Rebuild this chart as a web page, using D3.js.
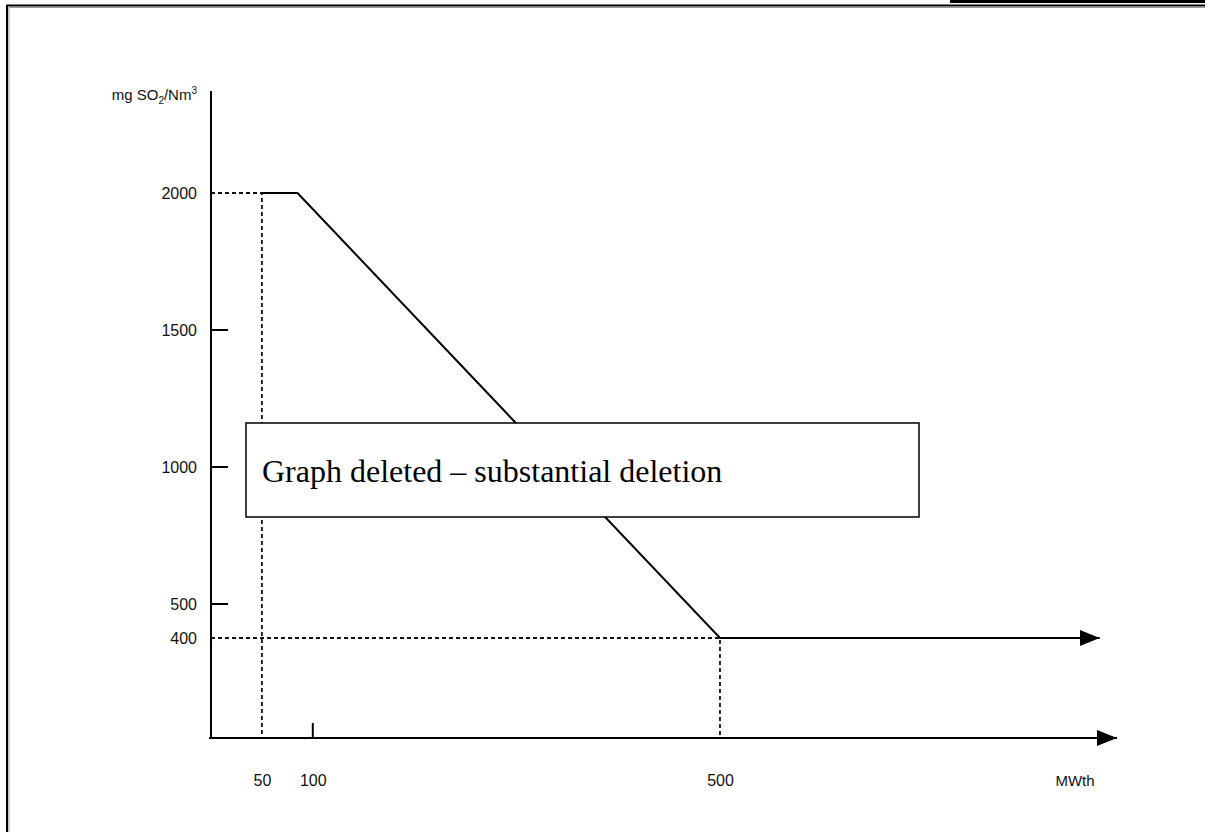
<!DOCTYPE html>
<html>
<head>
<meta charset="utf-8">
<script src="https://cdn.jsdelivr.net/npm/d3@7"></script>
<style>
    body { margin: 0; background: #fff; }
    svg { display: block; }
</style>
</head>
<body>
<div id="graph"></div>
<script>
// DATA
var yTicks = [2000, 1500, 1000, 500];      // ticks with a short mark
var yLabels = [2000, 1500, 1000, 500, 400];
var xLabels = [50, 100, 500];
var xTickMarks = [100];
var limitMW = [50, 85, 500, 873];          // emission limit curve
var limitSO2 = [2000, 2000, 400, 400];
var guideMW = [50, 500];                   // dashed guide lines
var guideSO2 = [2000, 400];
var xMax = 890;
var yMax = 2370;
var yUnit = ["mg SO", "2", "/Nm", "3"];
var xUnit = "MWth";
var boxText = "Graph deleted \u2013 substantial deletion";

var svgWidth = 1205;
var svgHeight = 832;

var svg = d3.select("#graph")
    .append("svg")
    .attr("width", svgWidth)
    .attr("height", svgHeight);

// page frame
svg.append("rect").attr("x", 950).attr("y", 0).attr("width", 255).attr("height", 3).attr("fill", "#000");
svg.append("path").attr("d", "M7,832V5.5H1205").attr("fill", "none").attr("stroke", "#000").attr("stroke-width", 2);
svg.append("path").attr("d", "M9,832V7.5H1205").attr("fill", "none").attr("stroke", "#999").attr("stroke-width", 1);

// scales
var x = d3.scaleLinear().domain([0, xMax]).range([211, 1117]);
var y = d3.scaleLinear().domain([0, 400, 500, 2000, yMax]).range([738, 638, 604, 193, 91]);

// arrow head
svg.append("defs").append("marker")
    .attr("id", "arrow")
    .attr("viewBox", "0 0 20 16")
    .attr("refX", 20).attr("refY", 8)
    .attr("markerWidth", 20).attr("markerHeight", 16)
    .attr("markerUnits", "userSpaceOnUse")
    .attr("orient", "auto")
    .append("path")
    .attr("d", "M0,0L20,8L0,16Z")
    .attr("fill", "#000");

// dashed guides
var dash = svg.append("g")
    .attr("stroke", "#111")
    .attr("stroke-width", 1.8)
    .attr("stroke-dasharray", "4,3")
    .attr("fill", "none");
for (var i = 0; i < guideMW.length; i++) {
    dash.append("path")
        .attr("d", "M" + x(0) + "," + y(guideSO2[i]) + "H" + x(guideMW[i]) + "V" + y(0));
}

// axes
svg.append("line")
    .attr("x1", x(0)).attr("y1", y(yMax))
    .attr("x2", x(0)).attr("y2", y(0) + 1)
    .attr("stroke", "#000").attr("stroke-width", 2);
svg.append("line")
    .attr("x1", x(0) - 2).attr("y1", y(0))
    .attr("x2", x(xMax)).attr("y2", y(0))
    .attr("stroke", "#000").attr("stroke-width", 2.2)
    .attr("marker-end", "url(#arrow)");

var yAxis = svg.append("g")
    .attr("transform", "translate(" + x(0) + ",0)")
    .call(d3.axisLeft(y).tickValues(yLabels).tickFormat(d3.format("d")).tickSize(0).tickPadding(14));
yAxis.select(".domain").remove();
yAxis.selectAll("text")
    .attr("font-family", "'Liberation Sans', Arial, sans-serif")
    .attr("font-size", 16)
    .attr("fill", "#111");

var xAxis = svg.append("g")
    .attr("transform", "translate(0," + y(0) + ")")
    .call(d3.axisBottom(x).tickValues(xLabels).tickFormat(d3.format("d")).tickSize(0).tickPadding(37));
xAxis.select(".domain").remove();
xAxis.selectAll("text")
    .attr("font-family", "'Liberation Sans', Arial, sans-serif")
    .attr("font-size", 16)
    .attr("fill", "#111");

// short tick marks
svg.selectAll(".ytick")
    .data(yTicks.slice(1))
    .enter().append("line")
    .attr("x1", x(0)).attr("x2", x(0) + 17)
    .attr("y1", d => y(d)).attr("y2", d => y(d))
    .attr("stroke", "#000").attr("stroke-width", 2);
svg.selectAll(".xtick")
    .data(xTickMarks)
    .enter().append("line")
    .attr("x1", d => x(d)).attr("x2", d => x(d))
    .attr("y1", y(0)).attr("y2", y(0) - 15)
    .attr("stroke", "#000").attr("stroke-width", 2);

// emission limit curve
var pts = limitMW.map(function(d, i) { return [d, limitSO2[i]]; });
svg.append("path")
    .datum(pts)
    .attr("fill", "none")
    .attr("stroke", "#000")
    .attr("stroke-width", 2)
    .attr("marker-end", "url(#arrow)")
    .attr("d", d3.line().x(d => x(d[0])).y(d => y(d[1])));

// unit labels
var yl = svg.append("text")
    .attr("x", 197).attr("y", 100)
    .attr("text-anchor", "end")
    .attr("font-family", "'Liberation Sans', Arial, sans-serif")
    .attr("font-size", 15)
    .attr("fill", "#111");
yl.append("tspan").text(yUnit[0]);
yl.append("tspan").attr("font-size", 10).attr("dy", 4).text(yUnit[1]);
yl.append("tspan").attr("dy", -4).text(yUnit[2]);
yl.append("tspan").attr("font-size", 10).attr("dy", -6).text(yUnit[3]);

svg.append("text")
    .attr("x", 1075).attr("y", y(0) + 48)
    .attr("text-anchor", "middle")
    .attr("font-family", "'Liberation Sans', Arial, sans-serif")
    .attr("font-size", 15)
    .attr("fill", "#111")
    .text(xUnit);

// deletion box
svg.append("rect")
    .attr("x", 246).attr("y", 423)
    .attr("width", 673).attr("height", 94)
    .attr("fill", "#fff")
    .attr("stroke", "#000")
    .attr("stroke-width", 1.5);
svg.append("text")
    .attr("x", 262).attr("y", 482)
    .attr("font-family", "'Liberation Serif', 'Times New Roman', serif")
    .attr("font-size", 32)
    .attr("fill", "#000")
    .text(boxText);
</script>
</body>
</html>
